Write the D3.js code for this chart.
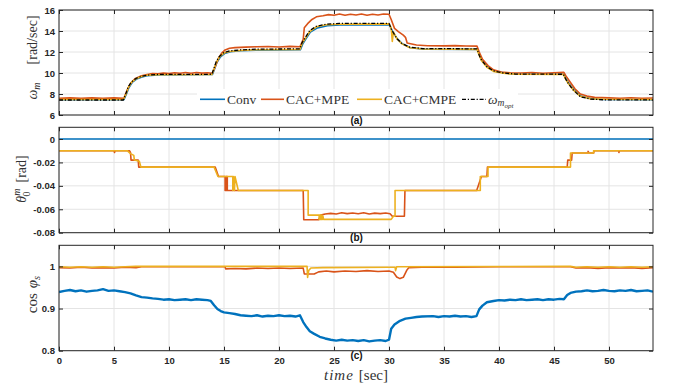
<!DOCTYPE html>
<html>
<head>
<meta charset="utf-8">
<script src="https://cdn.jsdelivr.net/npm/d3@7/dist/d3.min.js"></script>
<style>
  body { margin: 0; background: #fff; }
  svg text { font-family: "Liberation Sans", Arial, sans-serif; }
  .tick text { font-weight: bold; font-size: 9.5px; fill: #262626; }
  .lbl { font-family: "Liberation Serif", "Times New Roman", serif !important; fill: #333; }
</style>
</head>
<body>
<div id="chart"></div>
<script>
// time ticks shared by the three panels
const timeTicks = [0, 5, 10, 15, 20, 25, 30, 35, 40, 45, 50]

// (a) rotor speed [rad/sec], pairs of [time, value]
const omegaConv = [[0,7.45],[5.9,7.45],[6.15,8.05],[6.35,8.6],[6.65,9.1],[7.05,9.42],[7.55,9.63],[8.0,9.75],[9.0,9.82],[13.95,9.85],[14.15,10.4],[14.35,11.0],[14.65,11.5],[15.05,11.85],[15.6,12.02],[16.5,12.12],[18,12.18],[21.95,12.22],[22.15,12.75],[22.45,13.25],[22.85,13.9],[23.5,14.3],[24.4,14.5],[25.5,14.57],[30.05,14.58],[30.3,14.0],[30.75,13.25],[31.2,12.8],[31.95,12.4],[33.2,12.27],[38.05,12.25],[38.25,11.7],[38.45,11.25],[38.95,10.6],[39.55,10.2],[40.5,10.0],[41.5,9.9],[45.9,9.88],[46.1,9.45],[46.35,9.0],[46.8,8.42],[47.45,7.8],[48.4,7.55],[49.5,7.48],[54,7.46]]
const omegaMPE = [[0,7.6],[1,7.63],[2,7.58],[3,7.63],[4,7.6],[5,7.63],[5.9,7.6],[6.2,8.4],[6.5,9.0],[6.9,9.45],[7.4,9.7],[8,9.86],[8.5,9.95],[9,9.92],[9.5,10.0],[10,9.95],[10.5,10.03],[11,9.97],[11.5,10.04],[12,9.98],[12.5,10.05],[13,9.99],[13.5,10.03],[13.95,9.98],[14.2,10.6],[14.5,11.4],[14.8,11.9],[15.1,12.2],[15.5,12.35],[16,12.42],[17,12.46],[18,12.5],[19,12.52],[20,12.48],[21,12.54],[21.9,12.5],[22.2,13.2],[22.3,14.3],[22.6,14.7],[23.0,15.1],[23.4,15.35],[24,15.45],[24.5,15.56],[25,15.5],[25.5,15.62],[26,15.5],[26.5,15.6],[27,15.52],[27.5,15.62],[28,15.5],[28.5,15.6],[29,15.53],[29.5,15.62],[30,15.6],[30.2,15.1],[30.5,14.25],[30.85,13.94],[31.3,13.6],[31.5,13.4],[31.65,12.85],[32.5,12.67],[33.5,12.6],[35,12.58],[36,12.61],[37,12.57],[38,12.56],[38.2,12.0],[38.5,11.3],[39,10.7],[39.5,10.3],[40.2,10.1],[41,10.03],[42,10.0],[43,10.05],[44,9.98],[45,10.03],[45.9,10.06],[46.1,9.7],[46.45,9.17],[46.9,8.5],[47.4,8.0],[48,7.8],[48.7,7.68],[50,7.63],[51,7.6],[52,7.65],[53,7.6],[54,7.62]]
const omegaCMPE = [[0,7.48],[5.85,7.48],[6.1,8.0],[6.3,8.6],[6.6,9.12],[7.0,9.45],[7.5,9.66],[8.0,9.78],[9.0,9.84],[13.9,9.86],[14.1,10.4],[14.3,11.0],[14.6,11.55],[15.0,11.9],[15.5,12.05],[16.5,12.15],[18,12.22],[21.9,12.25],[22.1,12.8],[22.4,13.3],[22.8,13.95],[23.4,14.4],[24.3,14.6],[25.5,14.65],[30.0,14.68],[30.2,14.3],[30.3,13.0],[30.4,13.9],[30.7,13.3],[31.15,12.8],[31.9,12.4],[33.1,12.28],[38.0,12.25],[38.2,11.7],[38.4,11.2],[38.9,10.55],[39.5,10.15],[40.4,9.97],[41.5,9.88],[45.85,9.86],[46.05,9.45],[46.3,9.0],[46.75,8.4],[47.4,7.78],[48.3,7.55],[49.5,7.5],[54,7.48]]
const omegaOpt = [[0,7.43],[5.85,7.43],[6.1,8.1],[6.3,8.7],[6.6,9.17],[7.0,9.48],[7.5,9.68],[8.0,9.8],[9.0,9.86],[13.9,9.88],[14.1,10.5],[14.3,11.1],[14.6,11.6],[15.0,11.95],[15.5,12.1],[16.5,12.2],[18,12.27],[21.9,12.3],[22.1,12.9],[22.4,13.4],[22.8,14.05],[23.4,14.45],[24.3,14.65],[25.5,14.72],[30.0,14.73],[30.25,14.1],[30.7,13.3],[31.15,12.83],[31.9,12.45],[33.1,12.33],[38.0,12.3],[38.2,11.7],[38.4,11.24],[38.9,10.6],[39.5,10.2],[40.4,10.0],[41.5,9.9],[45.85,9.88],[46.05,9.45],[46.3,9.0],[46.75,8.38],[47.4,7.74],[48.3,7.52],[49.5,7.45],[54,7.43]]

// (b) theta_0^m [rad]
const thetaConv = [[0,0],[54,0]]
const thetaMPE = [[0,-0.01],[5.0,-0.01],[5.05,-0.0115],[5.1,-0.01],[6.4,-0.01],[6.5,-0.0115],[6.55,-0.018],[7.2,-0.018],[7.25,-0.024],[14.2,-0.024],[14.5,-0.032],[15.1,-0.032],[15.1,-0.044],[15.2,-0.044],[15.2,-0.032],[15.3,-0.032],[15.3,-0.044],[22.2,-0.044],[22.25,-0.069],[23.6,-0.069],[23.8,-0.065],[24.2,-0.064],[24.7,-0.0635],[25.2,-0.064],[25.7,-0.063],[26.2,-0.0637],[26.7,-0.0632],[27.2,-0.0638],[27.7,-0.063],[28.2,-0.064],[28.7,-0.0633],[29.2,-0.0637],[29.7,-0.0632],[30.1,-0.0638],[30.3,-0.066],[31.4,-0.066],[31.45,-0.044],[37.97,-0.044],[38.4,-0.032],[38.9,-0.032],[38.95,-0.024],[46.2,-0.024],[46.25,-0.018],[46.6,-0.018],[46.65,-0.012],[48.1,-0.012],[48.1,-0.0105],[48.2,-0.012],[48.6,-0.012],[48.65,-0.01],[50.9,-0.01],[50.9,-0.0115],[50.95,-0.01],[54,-0.01]]
const thetaCMPE = [[0,-0.01],[6.2,-0.01],[6.5,-0.0125],[6.8,-0.014],[6.85,-0.018],[7.3,-0.019],[7.45,-0.024],[14.1,-0.024],[14.45,-0.032],[15.8,-0.032],[15.8,-0.044],[15.85,-0.032],[15.95,-0.044],[16.0,-0.032],[16.3,-0.044],[22.65,-0.044],[22.65,-0.065],[23.65,-0.065],[23.65,-0.0686],[23.7,-0.065],[23.75,-0.0686],[23.8,-0.065],[23.85,-0.0686],[23.9,-0.065],[23.95,-0.0686],[24.0,-0.066],[24.05,-0.0686],[30.2,-0.0686],[30.4,-0.066],[30.55,-0.066],[30.55,-0.044],[38.3,-0.044],[38.3,-0.032],[39.0,-0.032],[39.0,-0.024],[46.5,-0.024],[46.5,-0.012],[48.6,-0.012],[48.6,-0.01],[54,-0.01]]

// (c) power factor cos(phi_s)
const pfConv = [[0,0.939],[0.5,0.942],[1,0.944],[1.5,0.941],[2,0.943],[2.5,0.94],[3,0.942],[3.5,0.943],[4,0.946],[4.5,0.942],[5,0.943],[5.5,0.941],[6,0.939],[6.5,0.936],[7,0.931],[7.5,0.927],[8,0.926],[8.5,0.924],[9,0.923],[9.5,0.921],[10,0.922],[10.5,0.92],[11,0.921],[11.5,0.922],[12,0.92],[12.5,0.922],[13,0.921],[13.5,0.92],[13.8,0.918],[14.1,0.908],[14.4,0.899],[14.7,0.894],[15,0.891],[15.5,0.889],[16,0.887],[16.5,0.884],[17,0.883],[17.5,0.882],[18,0.884],[18.5,0.881],[19,0.883],[19.5,0.882],[20,0.884],[20.5,0.882],[21,0.883],[21.5,0.881],[21.9,0.884],[22.2,0.868],[22.5,0.856],[22.8,0.846],[23.2,0.84],[23.7,0.833],[24.2,0.829],[24.7,0.826],[25.2,0.824],[25.7,0.826],[26.2,0.824],[26.7,0.825],[27.2,0.823],[27.7,0.825],[28.2,0.822],[28.7,0.824],[29.2,0.825],[29.7,0.823],[30,0.826],[30.2,0.852],[30.5,0.862],[31,0.871],[31.5,0.876],[32,0.878],[32.5,0.88],[33,0.881],[34,0.882],[34.5,0.88],[35,0.882],[35.5,0.881],[36,0.883],[36.5,0.881],[37,0.882],[37.5,0.88],[37.95,0.882],[38.2,0.898],[38.5,0.907],[38.9,0.915],[39.5,0.918],[40,0.92],[40.5,0.919],[41,0.921],[41.5,0.92],[42,0.922],[42.5,0.92],[43,0.921],[43.5,0.922],[44,0.92],[44.5,0.922],[45,0.921],[45.5,0.923],[45.9,0.922],[46.2,0.932],[46.5,0.937],[47,0.94],[47.5,0.941],[48,0.943],[48.5,0.941],[49,0.942],[49.5,0.944],[50,0.942],[50.5,0.941],[51,0.943],[51.5,0.942],[52,0.944],[52.5,0.941],[53,0.942],[53.5,0.943],[54,0.94]]
const pfMPE = [[0,0.997],[1,0.996],[2,0.998],[3,0.996],[4,0.997],[5,0.996],[6,0.998],[7,0.997],[7.5,0.999],[15.1,0.999],[15.15,0.994],[16,0.995],[17,0.994],[18,0.996],[19,0.995],[20,0.996],[21,0.995],[22.2,0.996],[22.3,0.982],[23.2,0.982],[23.6,0.987],[24.3,0.989],[25,0.987],[26,0.989],[27,0.988],[28,0.99],[29,0.988],[30,0.989],[30.4,0.986],[30.7,0.975],[31,0.971],[31.3,0.974],[31.6,0.99],[31.8,0.997],[33,0.998],[36,0.998],[40,0.999],[46.5,0.999],[47,0.996],[48,0.997],[49,0.995],[50,0.997],[51,0.996],[52,0.997],[53,0.995],[54,0.997]]
const pfCMPE = [[0,0.999],[1,0.998],[2,0.999],[3,0.998],[4,0.999],[5,0.998],[6,0.999],[7,1.0],[22.55,1.0],[22.6,0.974],[22.7,0.99],[22.9,0.996],[24,0.997],[30,0.998],[30.55,0.998],[30.6,0.99],[30.7,0.999],[46.5,1.0],[47,0.998],[48,0.999],[49,0.998],[50,0.999],[51,0.998],[52,0.999],[53,0.998],[54,0.999]]

const cConv = '#0072BD', cMPE = '#D95319', cCMPE = '#EDB120'

const width = 674, height = 387
const svg = d3.select('#chart').append('svg').attr('width', width).attr('height', height)
const x = d3.scaleLinear().domain([0, 54]).range([59, 653])

const panels = [
  { name: 'a', y: d3.scaleLinear().domain([6, 16]).range([115, 10]), ticks: [6, 8, 10, 12, 14, 16], fmt: d => d,
    series: [[omegaConv, cConv], [omegaMPE, cMPE], [omegaCMPE, cCMPE], [omegaOpt, '#000', '4,1.8,1.2,1.8', 1.3]] },
  { name: 'b', y: d3.scaleLinear().domain([-0.08, 0.01]).range([232.7, 127.3]), ticks: [-0.08, -0.06, -0.04, -0.02, 0], fmt: d => d === 0 ? '0' : d.toFixed(2),
    series: [[thetaConv, cConv], [thetaMPE, cMPE], [thetaCMPE, cCMPE]] },
  { name: 'c', y: d3.scaleLinear().domain([0.8, 1.05]).range([350.7, 245.3]), ticks: [0.8, 0.9, 1], fmt: d => d === 1 ? '1' : d.toFixed(1),
    series: [[pfConv, cConv, null, 2.4], [pfMPE, cMPE], [pfCMPE, cCMPE]] }
]

panels.forEach((p, i) => {
  const [yb, yt] = p.y.range()
  const g = svg.append('g')

  // grid
  g.append('g').selectAll('line').data(timeTicks).join('line')
    .attr('x1', d => x(d)).attr('x2', d => x(d)).attr('y1', yt).attr('y2', yb)
    .attr('stroke', '#e4e4e4').attr('stroke-width', 1)
  g.append('g').selectAll('line').data(p.ticks).join('line')
    .attr('x1', 59).attr('x2', 653).attr('y1', d => p.y(d)).attr('y2', d => p.y(d))
    .attr('stroke', '#e4e4e4').attr('stroke-width', 1)

  svg.append('clipPath').attr('id', 'clip' + p.name)
    .append('rect').attr('x', 59).attr('y', yt).attr('width', 594).attr('height', yb - yt)

  const line = d3.line().x(d => x(d[0])).y(d => p.y(d[1]))
  p.series.forEach(s => {
    g.append('path').datum(s[0])
      .attr('clip-path', `url(#clip${p.name})`)
      .attr('d', line)
      .attr('fill', 'none')
      .attr('stroke', s[1])
      .attr('stroke-width', s[3] || 1.6)
      .attr('stroke-dasharray', s[2] || null)
      .attr('stroke-linejoin', 'round')
  })

  // axes, ticks inside on all four sides
  const last = i === panels.length - 1
  g.append('g').attr('transform', `translate(0,${yb})`)
    .call(d3.axisBottom(x).tickValues(timeTicks).tickSize(-4).tickPadding(7).tickFormat(last ? d => d : () => ''))
  g.append('g').attr('transform', `translate(0,${yt})`)
    .call(d3.axisTop(x).tickValues(timeTicks).tickSize(-4).tickFormat(() => ''))
  g.append('g').attr('transform', 'translate(59,0)')
    .call(d3.axisLeft(p.y).tickValues(p.ticks).tickSize(-4).tickPadding(4).tickFormat(p.fmt))
  g.append('g').attr('transform', 'translate(653,0)')
    .call(d3.axisRight(p.y).tickValues(p.ticks).tickSize(-4).tickFormat(() => ''))
  g.selectAll('.domain').remove()
  g.selectAll('.tick line').attr('stroke', '#262626')

  g.append('rect').attr('x', 59).attr('y', yt).attr('width', 594).attr('height', yb - yt)
    .attr('fill', 'none').attr('stroke', '#262626').attr('stroke-width', 1)

  // panel letter
  svg.append('text').attr('x', 356.5).attr('y', yb + 8.5)
    .attr('text-anchor', 'middle').attr('font-weight', 'bold').attr('font-size', 10).attr('fill', '#111')
    .text(`(${p.name})`)
})

// legend for panel (a)
const legendItems = [
  { label: 'Conv', color: cConv, x0: 200, x1: 225, tx: 227 },
  { label: 'CAC+MPE', color: cMPE, x0: 261, x1: 284, tx: 286 },
  { label: 'CAC+CMPE', color: cCMPE, x0: 357, x1: 382, tx: 384 },
  { label: 'opt', color: '#000', x0: 462, x1: 486, tx: 488, dash: '4,1.8,1.2,1.8' }
]
const leg = svg.append('g')
leg.append('rect').attr('x', 197).attr('y', 89).attr('width', 321).attr('height', 21).attr('fill', '#fff')
legendItems.forEach(it => {
  leg.append('line').attr('x1', it.x0).attr('x2', it.x1).attr('y1', 99.3).attr('y2', 99.3)
    .attr('stroke', it.color).attr('stroke-width', it.dash ? 1.3 : 1.6).attr('stroke-dasharray', it.dash || null)
  const t = leg.append('text').attr('class', 'lbl').attr('x', it.tx).attr('y', 103.5).attr('font-size', 13.5).attr('fill', '#222')
  if (it.label === 'opt') {
    t.append('tspan').attr('font-style', 'italic').text('ω')
    t.append('tspan').attr('font-style', 'italic').attr('font-size', 9.5).attr('dy', 2.5).text('m')
    t.append('tspan').attr('font-style', 'italic').attr('font-size', 7).attr('dy', 2).text('opt')
  } else {
    t.text(it.label)
  }
})

// axis labels
const yl1 = svg.append('text').attr('class', 'lbl').attr('font-size', 14)
  .attr('transform', 'translate(37,57.5) rotate(-90)').attr('text-anchor', 'middle')
yl1.append('tspan').attr('font-style', 'italic').text('ω')
yl1.append('tspan').attr('font-style', 'italic').attr('font-size', 10).attr('dy', 3).text('m')
yl1.append('tspan').attr('dy', -3).attr('dx', 18).text('[rad/sec]')

const yl2 = svg.append('text').attr('class', 'lbl').attr('font-size', 14)
  .attr('transform', 'translate(26,179) rotate(-90)').attr('text-anchor', 'middle')
yl2.append('tspan').attr('font-style', 'italic').text('θ')
yl2.append('tspan').attr('font-style', 'italic').attr('font-size', 10).attr('dy', -6).text('m')
yl2.append('tspan').attr('font-size', 10).attr('dx', -8).attr('dy', 10).text('0')
yl2.append('tspan').attr('dy', -4).attr('dx', 9).text('[rad]')

const yl3 = svg.append('text').attr('class', 'lbl').attr('font-size', 15)
  .attr('transform', 'translate(37,294.5) rotate(-90)').attr('text-anchor', 'middle')
yl3.append('tspan').text('cos')
yl3.append('tspan').attr('font-style', 'italic').attr('dx', 5).text('φ')
yl3.append('tspan').attr('font-style', 'italic').attr('font-size', 10.5).attr('dy', 3).text('s')

const xl = svg.append('text').attr('class', 'lbl').attr('font-size', 15)
  .attr('x', 356).attr('y', 380).attr('text-anchor', 'middle')
xl.append('tspan').attr('font-style', 'italic').attr('letter-spacing', 1).text('time')
xl.append('tspan').attr('dx', 5).text('[sec]')
</script>
</body>
</html>
